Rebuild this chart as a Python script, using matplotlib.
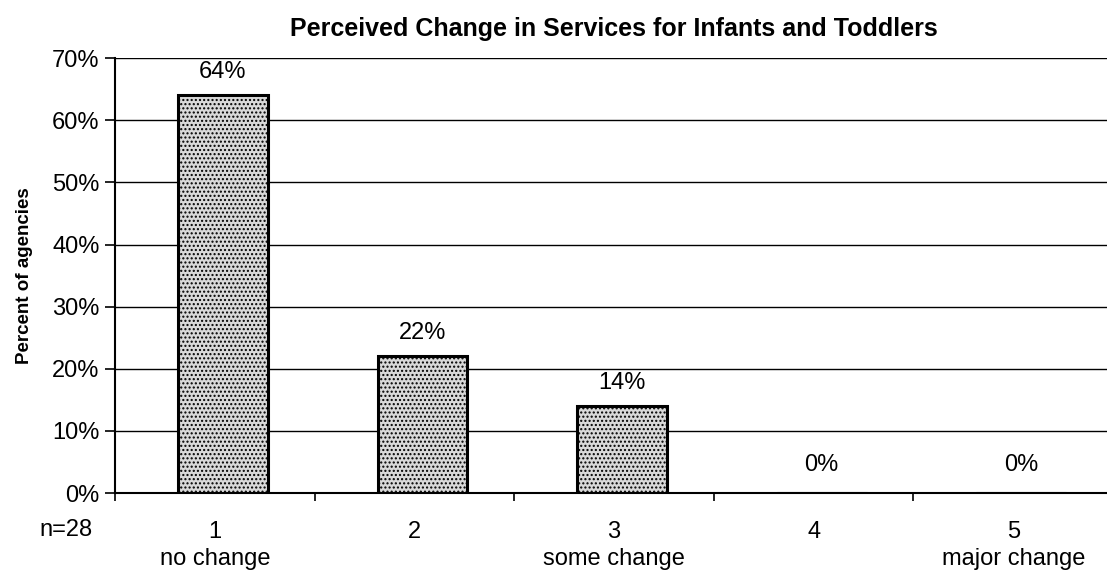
import numpy as np
import matplotlib
matplotlib.use("Agg")
import matplotlib.pyplot as plt
from matplotlib.ticker import FuncFormatter

plt.rcParams['font.family'] = ['Liberation Sans', 'DejaVu Sans']
plt.rcParams['hatch.color'] = '#7a7a7a'
plt.rcParams['hatch.linewidth'] = 1.0

categories = ["1", "2", "3", "4", "5"]
descriptions = ["no change", "", "some change", "", "major change"]
percent = [64, 22, 14, 0, 0]
sample_note = "n=28"

fig = plt.figure(figsize=(11.07, 5.70), dpi=100)
ax = fig.add_axes([0.1039, 0.135, 0.9016, 0.763])

x = np.arange(len(categories))
bars = ax.bar(x + 0.04, percent, width=0.45, facecolor='#d9d9d9',
              edgecolor='black', linewidth=2.2, hatch='....', zorder=3)

for b, v in zip(bars, percent):
    ax.annotate(f"{v}%", (b.get_x() + b.get_width() / 2, v),
                xytext=(0, 9 if v > 0 else 12), textcoords='offset points',
                ha='center', va='bottom', fontsize=17)

ax.set_xlim(-0.5, 4.5)
ax.set_ylim(0, 70)
ax.set_yticks(np.arange(0, 71, 10))
ax.yaxis.set_major_formatter(FuncFormatter(lambda v, _: f"{v:.0f}%"))
ax.grid(axis='y', color='black', linewidth=1.0, zorder=0)

ax.set_xticks(x)
ax.set_xticklabels([f"{c}\n{d}" for c, d in zip(categories, descriptions)],
                   fontsize=17, linespacing=1.3)
ax.set_xticks(np.arange(-0.5, 4.6, 1), minor=True)
ax.tick_params(axis='x', which='major', length=0, pad=20)
ax.tick_params(axis='x', which='minor', length=6, width=1.2, direction='out')
ax.tick_params(axis='y', length=7, width=1.2, labelsize=17, pad=4)

for side in ('top', 'right'):
    ax.spines[side].set_visible(False)
ax.spines['left'].set_linewidth(1.5)
ax.spines['bottom'].set_linewidth(1.5)

ax.text(-0.022, -0.085, sample_note, transform=ax.transAxes, ha='right',
        va='center', fontsize=17)
ax.set_ylabel("Percent of agencies", fontsize=13.5, fontweight='bold', labelpad=14)
ax.set_title("Perceived Change in Services for Infants and Toddlers",
             fontsize=18, fontweight='bold', x=0.5, pad=16)

fig.savefig("out.png", dpi=100)
